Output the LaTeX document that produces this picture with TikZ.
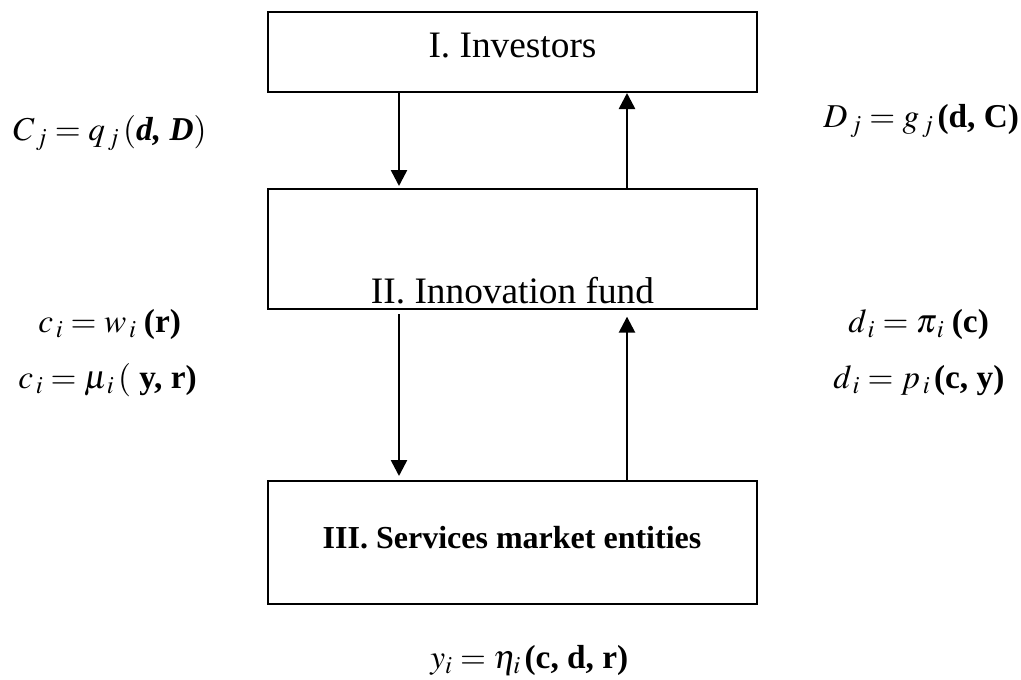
\documentclass[tikz,border=0pt]{standalone}
\usepackage{mathptmx}
\usepackage{fontspec}
\setmainfont{Liberation Serif}
\usetikzlibrary{arrows.meta}

\begin{document}
\begin{tikzpicture}[x=0.75pt,y=-0.75pt,>={Triangle[length=12pt,width=12pt]},
  box/.style={draw,line width=1.5pt,inner sep=0pt,minimum width=366.75pt},
  eq/.style={anchor=base west,inner sep=0pt,font=\fontsize{25}{28}\selectfont},
  flow/.style={->,line width=1.9pt}]
  \useasboundingbox (0,0) rectangle (1021,679);
  % the three levels
  \node[box,minimum height=60pt] (inv) at (512.5,52) {};
  \node[box,minimum height=90pt] (fund) at (512.5,249) {};
  \node[box,minimum height=92.25pt] (mkt) at (512.5,542.5) {};
  \node[anchor=base,font=\fontsize{28}{30}\selectfont] (invtxt) at (512.5,57) {I. Investors};
  \node[anchor=base,font=\fontsize{28}{30}\selectfont] (fundtxt) at (512.5,303) {II. Innovation fund};
  \node[anchor=base,font=\fontsize{24}{26}\selectfont\bfseries] (mkttxt) at (512,548) {III. Services market entities};
  % arrows between levels
  \coordinate (down) at (399,0);
  \coordinate (up) at (627,0);
  \draw[flow,shorten >=1.5pt] (inv.south -| down) -- (fund.north -| down);
  \draw[flow] (fund.north -| up) -- (inv.south -| up);
  \draw[flow,shorten <=3pt,shorten >=3pt] (fund.south -| down) -- (mkt.north -| down);
  \draw[flow,shorten >=5pt] (mkt.north -| up) -- (fund.south -| up);
  % behaviour functions
  \node[eq] (cq) at (13,140) {$C_{\,j} = q_{\,j}\,($\textbf{\textit{d, D}}$)$};
  \node[eq] (dg) at (823,127) {$D_{\,j} = g_{\,j}\,$\textbf{(d, C)}};
  \node[eq] (cw) at (38,332) {$c_{\,i} = w_{\,i}\;$\textbf{(r)}};
  \node[eq] (dpi) at (848,332) {$d_{\,i} = \pi_{\,i}\;$\textbf{(c)}};
  \node[eq] (cmu) at (18,388) {$c_{\,i} = \mu_{\,i}\,($ \textbf{y, r)}};
  \node[eq] (dp) at (833,388) {$d_{\,i} = p_{\,i}\,$\textbf{(c, y)}};
  \node[eq] (yeta) at (430,668) {$y_{i} = \eta_{i}\,$\textbf{(c, d, r)}};
\end{tikzpicture}
\end{document}
